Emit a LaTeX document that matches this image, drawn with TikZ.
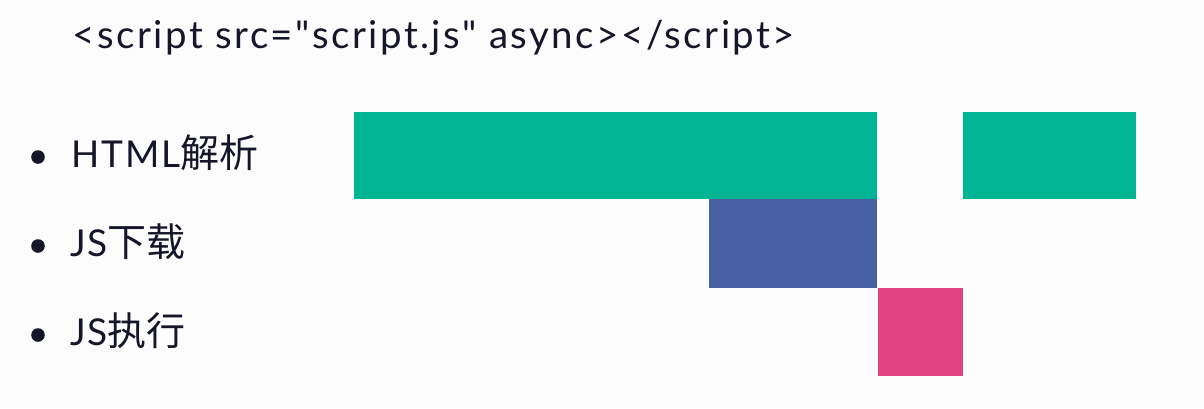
\documentclass[tikz,border=0pt]{standalone}
\usepackage{fontspec}
\setmainfont{Lato}
\newfontfamily\widefont{Lato}[LetterSpace=6.5]
\newfontfamily\labfont{Lato}[LetterSpace=5]
\newfontfamily\cjk{Noto Sans CJK SC}
\usetikzlibrary{fit}
\definecolor{cbg}{HTML}{FCFCFC}
\definecolor{ctext}{HTML}{16162A}
\definecolor{cgreen}{HTML}{00B494}
\definecolor{cblue}{HTML}{4660A2}
\definecolor{cpink}{HTML}{E04582}
\newcommand{\zh}[1]{{\cjk\fontsize{19.5}{20}\selectfont #1}}
\tikzset{
  every picture/.style={x=0.5pt, y=-0.5pt},
  bar/.style={fill=#1, draw=none, inner sep=0pt, rectangle},
  bar/.default=cgreen,
  dot/.style={circle, fill=ctext, draw=none, inner sep=0pt, minimum size=6.8pt},
  label/.style={anchor=base west, inner sep=0pt, text=ctext, font=\labfont\fontsize{18.5}{20}\selectfont},
  head/.style={anchor=base west, inner sep=0pt, text=ctext, font=\widefont\fontsize{19.2}{20}\selectfont},
}

\begin{document}
\begin{tikzpicture}
  \fill[cbg] (0,0) rectangle (1204,408);
  \useasboundingbox (0,0) rectangle (1204,408);
  \node[head] (hd) at (72,48) {<script src=\char34 script.js\char34{} async></script>};
  % row labels
  \node[dot] (b1) at (38,157) {};
  \node[dot] (b2) at (38,246) {};
  \node[dot] (b3) at (38,335) {};
  \node[label] (parse) at (71,167) {HTML\zh{解析}};
  \node[label] (load) at (70,256) {JS\zh{下载}};
  \node[label] (run) at (70,345) {JS\zh{执行}};
  % timeline bars
  \node[bar=cgreen, fit={(354,112) (877,199)}] (p1) {};
  \node[bar=cgreen, fit={(963,112) (1136,199)}] (p2) {};
  \node[bar=cblue, fit={(709,199) (877,288)}] (dl) {};
  \node[bar=cpink, fit={(878,288) (963,376)}] (ex) {};
\end{tikzpicture}
\end{document}
